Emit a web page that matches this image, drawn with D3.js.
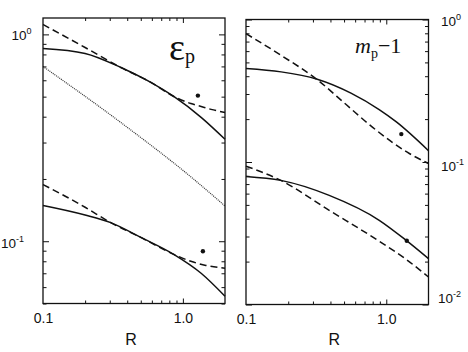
<!DOCTYPE html>
<html>
<head>
<meta charset="utf-8">
<script src="https://cdn.jsdelivr.net/npm/d3@7"></script>
<style>
  body { margin: 0; background: #fff; }
  text { font-family: "Liberation Sans", Arial, sans-serif; fill: #111; }
</style>
</head>
<body>
<script>
// [R, value] pairs
// left panel: eps_p
const epsUpperSolid  = [[0.1,0.855],[0.2,0.809],[0.36,0.692],[0.59,0.586],[0.86,0.501],[1.35,0.397],[2.0,0.311]];
const epsUpperDashed = [[0.1,1.116],[0.2,0.864],[0.36,0.692],[0.59,0.586],[0.86,0.501],[1.14,0.463],[1.35,0.448],[1.59,0.434],[2.0,0.419]];
const epsDotted      = [[0.1,0.70],[0.36,0.375],[1.2,0.199],[2.0,0.148]];
const epsLowerSolid  = [[0.1,0.149],[0.2,0.134],[0.305,0.123],[0.5,0.1044],[0.86,0.0864],[1.35,0.070],[2.0,0.0542]];
const epsLowerDashed = [[0.1,0.188],[0.2,0.146],[0.305,0.123],[0.5,0.1044],[0.86,0.0864],[1.14,0.080],[1.46,0.0764],[2.0,0.074]];
const epsDots        = [[1.28,0.506],[1.39,0.0894]];

// right panel: m_p - 1
const mUpperSolid  = [[0.1,0.453],[0.178,0.429],[0.318,0.382],[0.56,0.304],[0.89,0.233],[1.18,0.191],[2.0,0.120]];
const mUpperDashed = [[0.1,0.796],[0.178,0.56],[0.318,0.382],[0.52,0.252],[0.80,0.175],[1.46,0.1147],[2.0,0.0976]];
const mLowerSolid  = [[0.1,0.0792],[0.177,0.0743],[0.392,0.0583],[0.891,0.039],[1.38,0.0283],[2.0,0.021]];
const mLowerDashed = [[0.1,0.0935],[0.177,0.0743],[0.392,0.0458],[0.891,0.0278],[1.38,0.0208],[2.0,0.0156]];
const mDots        = [[1.28,0.157],[1.40,0.028]];

const xDomain = [0.1, 2.0];
const xTickLabels = [0.1, 1.0];

const W = 468, H = 352;
const svg = d3.select("body").append("svg").attr("width", W).attr("height", H);

const panels = [
  { x0: 43, x1: 225, y0: 18, y1: 303.5, yDom: [0.05, 1.2],
    lines: [
      {d: epsUpperDashed, dash: "7,4"}, {d: epsUpperSolid},
      {d: epsDotted, dotted: true},
      {d: epsLowerDashed, dash: "7,4"}, {d: epsLowerSolid}],
    dots: epsDots },
  { x0: 246, x1: 428.5, y0: 19.5, y1: 304.5, yDom: [0.01, 1],
    lines: [
      {d: mUpperDashed, dash: "7,4"}, {d: mUpperSolid},
      {d: mLowerDashed, dash: "7,4"}, {d: mLowerSolid}],
    dots: mDots }
];

const isMajor = v => Math.abs(Math.log10(v) - Math.round(Math.log10(v))) < 1e-6;

panels.forEach(p => {
  const x = d3.scaleLog().domain(xDomain).range([p.x0, p.x1]);
  const y = d3.scaleLog().domain(p.yDom).range([p.y1, p.y0]);
  const g = svg.append("g");

  const yt = y.ticks().filter(v => v >= p.yDom[0] && v <= p.yDom[1]);
  const xt = x.ticks().filter(v => v > xDomain[0] && v < xDomain[1]);

  const ax = (axis, tx, ty) => g.append("g")
    .attr("transform", `translate(${tx},${ty})`)
    .call(axis)
    .call(a => a.select(".domain").remove())
    .call(a => a.selectAll("line").attr("stroke", "#111"));

  // inward ticks on all four sides
  ax(d3.axisLeft(y).tickValues(yt.filter(isMajor)).tickSize(-6).tickFormat(""), p.x0, 0);
  ax(d3.axisLeft(y).tickValues(yt.filter(v => !isMajor(v))).tickSize(-3.5).tickFormat(""), p.x0, 0);
  ax(d3.axisRight(y).tickValues(yt.filter(isMajor)).tickSize(-6).tickFormat(""), p.x1, 0);
  ax(d3.axisRight(y).tickValues(yt.filter(v => !isMajor(v))).tickSize(-3.5).tickFormat(""), p.x1, 0);
  ax(d3.axisBottom(x).tickValues(xt.filter(isMajor)).tickSize(-5).tickFormat(""), 0, p.y1);
  ax(d3.axisBottom(x).tickValues(xt.filter(v => !isMajor(v))).tickSize(-3).tickFormat(""), 0, p.y1);
  ax(d3.axisTop(x).tickValues(xt.filter(isMajor)).tickSize(-5).tickFormat(""), 0, p.y0);
  ax(d3.axisTop(x).tickValues(xt.filter(v => !isMajor(v))).tickSize(-3).tickFormat(""), 0, p.y0);

  // x tick labels
  g.append("g")
    .attr("transform", `translate(0,${p.y1})`)
    .call(d3.axisBottom(x).tickValues(xTickLabels).tickSize(0).tickPadding(9.5).tickFormat(d3.format(".1f")))
    .call(a => a.select(".domain").remove())
    .call(a => a.selectAll("text").style("font-size", "14px").attr("fill", "#111"));

  g.append("text")
    .attr("x", (p.x0 + p.x1) / 2 - 3).attr("y", 345)
    .attr("text-anchor", "middle").style("font-size", "16px").text("R");

  const line = d3.line().x(d => x(d[0])).y(d => y(d[1])).curve(d3.curveMonotoneX);
  p.lines.forEach(l => {
    g.append("path").attr("d", line(l.d)).attr("fill", "none")
      .attr("stroke", l.dotted ? "#333" : "#111")
      .attr("stroke-width", l.dotted ? 1.2 : 1.5)
      .attr("stroke-dasharray", l.dotted ? "1,1" : (l.dash || null));
  });

  g.selectAll("circle.pt").data(p.dots).join("circle")
    .attr("class", "pt")
    .attr("cx", d => x(d[0])).attr("cy", d => y(d[1])).attr("r", 2.2).attr("fill", "#111");

  g.append("rect").attr("x", p.x0).attr("y", p.y0)
    .attr("width", p.x1 - p.x0).attr("height", p.y1 - p.y0)
    .attr("fill", "none").attr("stroke", "#111").attr("stroke-width", 1.3);
});

// power-of-ten labels
function powLabel(xp, yp, exp, anchor) {
  const t = svg.append("text").attr("x", xp).attr("y", yp)
    .attr("text-anchor", anchor).style("font-size", "13.5px");
  t.append("tspan").text("10");
  t.append("tspan").attr("dy", -6).style("font-size", "9px").text(exp);
}
powLabel(31.5, 40, "0", "end");
powLabel(1, 248, "-1", "start");
powLabel(441, 26, "0", "start");
powLabel(441, 171, "-1", "start");
powLabel(438, 303, "-2", "start");

// panel titles
const t1 = svg.append("text").attr("x", 169).attr("y", 60)
  .style("font-family", "'Liberation Serif', serif").style("font-size", "38px");
t1.append("tspan").text("\u03b5");
t1.append("tspan").attr("dy", 3).style("font-size", "20px").text("p");

const t2 = svg.append("text").attr("x", 355).attr("y", 53)
  .style("font-family", "'Liberation Serif', serif").style("font-size", "22px");
t2.append("tspan").style("font-style", "italic").text("m");
t2.append("tspan").attr("dy", 5).style("font-size", "14px").text("p");
t2.append("tspan").attr("dy", -5).text("\u22121");
</script>
</body>
</html>
